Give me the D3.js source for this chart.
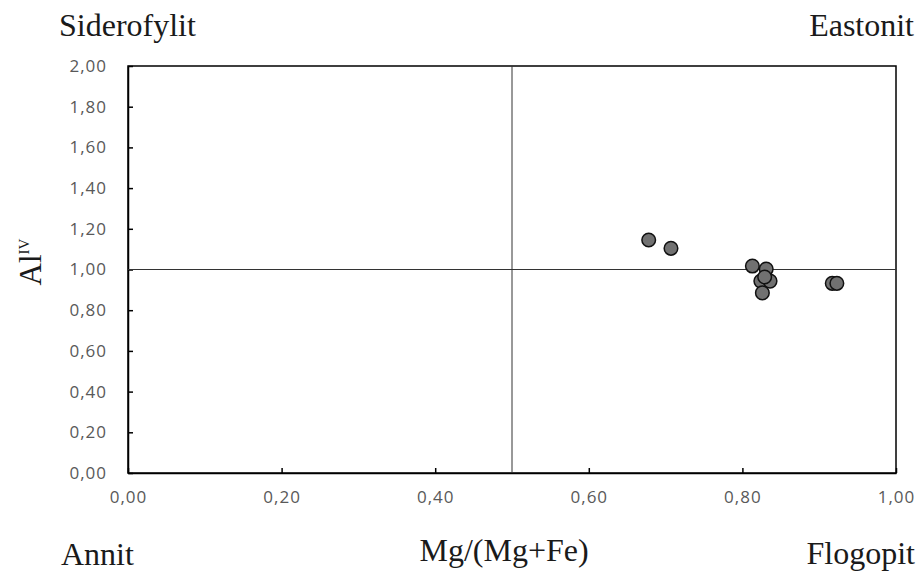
<!DOCTYPE html>
<html>
<head>
<meta charset="utf-8">
<script src="https://cdn.jsdelivr.net/npm/d3@7"></script>
<style>
  html, body { margin: 0; padding: 0; background: #fff; }
  svg { display: block; }
</style>
</head>
<body>
<svg id="chart" width="919" height="573"></svg>
<script>
// Biotite classification: Mg/(Mg+Fe) vs Al(IV)
const mgRatio = [0.678, 0.707, 0.813, 0.831, 0.824, 0.836, 0.829, 0.826, 0.917, 0.923];
const alIV    = [1.145, 1.104, 1.017, 1.002, 0.943, 0.943, 0.963, 0.885, 0.932, 0.932];
const xTicks = [0, 0.2, 0.4, 0.6, 0.8, 1.0];
const yTicks = [0, 0.2, 0.4, 0.6, 0.8, 1.0, 1.2, 1.4, 1.6, 1.8, 2.0];
const dividerX = 0.5;
const dividerY = 1.0;

const svg = d3.select("#chart");
const m = { left: 128, right: 23, top: 66, bottom: 100 };
const W = 919, H = 573;

const x = d3.scaleLinear().domain([0, 1]).range([m.left, W - m.right]);
const y = d3.scaleLinear().domain([0, 2]).range([H - m.bottom, m.top]);
const fmt = d => d3.format(".2f")(d).replace(".", ",");

// plot frame
svg.append("rect")
  .attr("x", x(0)).attr("y", y(2))
  .attr("width", x(1) - x(0)).attr("height", y(0) - y(2))
  .attr("fill", "none").attr("stroke", "#000").attr("stroke-width", 1.5);

// axes with inward ticks
const tickFont = "'Open Sans', sans-serif";
const yAxis = svg.append("g").attr("transform", `translate(${x(0)},0)`)
  .call(d3.axisLeft(y).tickValues(yTicks).tickFormat(fmt).tickSizeInner(-5).tickSizeOuter(0).tickPadding(21));
const xAxis = svg.append("g").attr("transform", `translate(0,${y(0)})`)
  .call(d3.axisBottom(x).tickValues(xTicks).tickFormat(fmt).tickSizeInner(-5).tickSizeOuter(0).tickPadding(18));
[xAxis, yAxis].forEach(a => {
  a.attr("font-size", null).attr("font-family", null);
  a.select(".domain").attr("stroke", "#000").attr("stroke-width", 1.5);
  a.selectAll(".tick line").attr("stroke", "#000").attr("stroke-width", 1.5);
  a.selectAll(".tick text")
    .attr("fill", "#595959")
    .attr("font-family", tickFont)
    .attr("font-size", 17)
    .attr("letter-spacing", 1);
});

// field dividers
svg.append("line")
  .attr("x1", x(0)).attr("x2", x(1)).attr("y1", y(dividerY)).attr("y2", y(dividerY))
  .attr("stroke", "#333").attr("stroke-width", 1);
svg.append("line")
  .attr("x1", x(dividerX)).attr("x2", x(dividerX)).attr("y1", y(0)).attr("y2", y(2))
  .attr("stroke", "#333").attr("stroke-width", 1);

// samples
svg.append("g").selectAll("circle")
  .data(mgRatio.map((v, i) => [v, alIV[i]]))
  .join("circle")
  .attr("cx", d => x(d[0])).attr("cy", d => y(d[1]))
  .attr("r", 6.8)
  .attr("fill", "#717171").attr("stroke", "#111").attr("stroke-width", 1.5);

// end-member labels
const serif = "'Liberation Serif', 'Times New Roman', serif";
const lab = (t, xx, yy, anchor) => svg.append("text")
  .attr("x", xx).attr("y", yy).attr("text-anchor", anchor)
  .attr("fill", "#1a1a1a").attr("font-family", serif).attr("font-size", 32).text(t);
lab("Siderofylit", 59, 36, "start");
lab("Eastonit", 914, 36, "end");
lab("Annit", 61, 565, "start");
lab("Flogopit", 915, 564, "end");
lab("Mg/(Mg+Fe)", 504, 561, "middle");

// y-axis title with superscript
const yt = svg.append("text")
  .attr("transform", "translate(41,262) rotate(-90)")
  .attr("text-anchor", "middle")
  .attr("fill", "#1a1a1a").attr("font-family", serif).attr("font-size", 31);
yt.append("tspan").text("Al");
yt.append("tspan").attr("dy", -12).attr("font-size", 15).text("IV");
</script>
</body>
</html>
